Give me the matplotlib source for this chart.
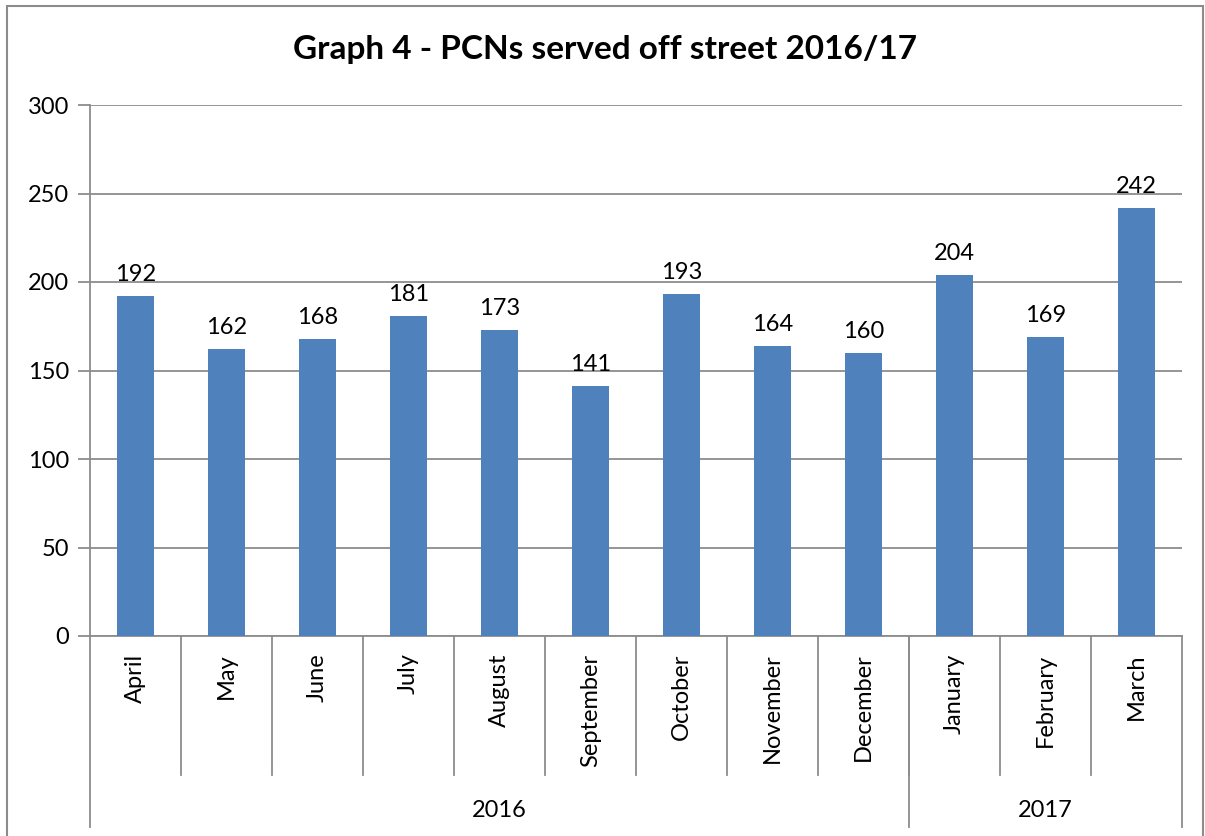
import matplotlib.pyplot as plt
from matplotlib.patches import Rectangle

plt.rcParams['font.family'] = ['Lato', 'DejaVu Sans']

months = ['April', 'May', 'June', 'July', 'August', 'September',
          'October', 'November', 'December', 'January', 'February', 'March']
pcns = [192, 162, 168, 181, 173, 141, 193, 164, 160, 204, 169, 242]
years = ['2016', '2017']
months_per_year = [9, 3]

grey = '#8c8c8c'
bar_col = '#4f81bd'
fs = 17

fig = plt.figure(figsize=(12.05, 8.36), dpi=100)
ax = fig.add_axes([90 / 1205, 1 - 636 / 836, (1182 - 90) / 1205, (636 - 105) / 836])

x = list(range(len(months)))
ax.bar(x, pcns, width=0.4, color=bar_col, zorder=3)
for xi, v in zip(x, pcns):
    ax.annotate(str(v), (xi, v), xytext=(0, 8), textcoords='offset points',
                ha='center', va='bottom', fontsize=fs)

ax.set_xlim(-0.5, len(months) - 0.5)
ax.set_ylim(0, 300)
ax.set_yticks(range(0, 301, 50))
ax.yaxis.grid(True, color=grey, linewidth=1.3, zorder=0)
ax.tick_params(axis='y', labelsize=fs, length=9, width=1.3, color=grey, pad=6)
ax.set_xticks([])
for s in ['top', 'right']:
    ax.spines[s].set_visible(False)
for s in ['left', 'bottom']:
    ax.spines[s].set_color(grey)
    ax.spines[s].set_linewidth(1.3)

# month labels and separators
trans = ax.get_xaxis_transform()
for xi, m in zip(x, months):
    ax.text(xi, -0.033, m, rotation=90, ha='center', va='top',
            fontsize=fs, transform=trans)
for b in range(1, len(months)):
    ax.plot([b - 0.5, b - 0.5], [0, -0.262], color=grey, lw=1.3,
            transform=trans, clip_on=False)

# year group labels
start = 0
bounds = [-0.5]
for y, n in zip(years, months_per_year):
    ax.text(start + (n - 1) / 2, -0.328, y, ha='center', va='center',
            fontsize=fs, transform=trans)
    start += n
    bounds.append(start - 0.5)
for b in bounds:
    ax.plot([b, b], [0, -0.36], color=grey, lw=1.3,
            transform=trans, clip_on=False)

fig.text(605 / 1205, 1 - 50 / 836, 'Graph 4 - PCNs served off street 2016/17',
         ha='center', va='center', fontsize=24, fontweight='bold')

fig.patches.append(Rectangle((7 / 1205, -0.01), (1203 - 7) / 1205, 1 - 6 / 836 + 0.01,
                             transform=fig.transFigure, fill=False,
                             edgecolor=grey, linewidth=1.5))

fig.savefig('out.png', dpi=100)
